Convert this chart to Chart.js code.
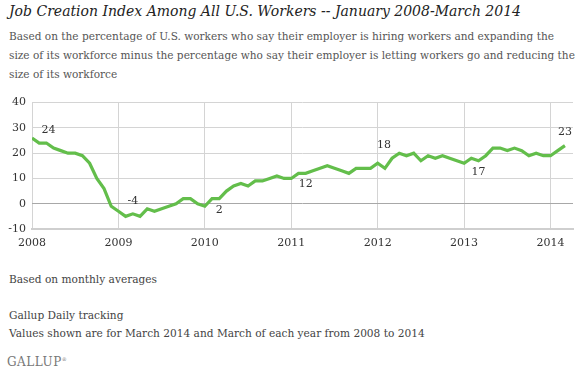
<!DOCTYPE html>
<html>
<head>
<meta charset="utf-8">
<script src="https://cdn.jsdelivr.net/npm/chart.js@4.4.1/dist/chart.umd.min.js"></script>
<style>
  body { margin: 0; width: 580px; height: 374px; background: #fff; position: relative; overflow: hidden; font-family: "DejaVu Serif", Georgia, serif; }
  .txt { position: absolute; left: 9px; white-space: nowrap; }
  #title { top: 3px; font-size: 14px; font-style: italic; color: #222; }
  #subtitle { top: 27px; font-size: 10.55px; line-height: 19px; color: #555; }
  #chartBox { position: absolute; left: 0; top: 90px; width: 580px; height: 170px; }
  .foot { font-size: 10.6px; color: #444; }
  #logo { font-size: 12px; color: #777; letter-spacing: 0.5px; }
</style>
</head>
<body>
<div id="title" class="txt">Job Creation Index Among All U.S. Workers -- January 2008-March 2014</div>
<div id="subtitle" class="txt">Based on the percentage of U.S. workers who say their employer is hiring workers and expanding the<br>size of its workforce minus the percentage who say their employer is letting workers go and reducing the<br>size of its workforce</div>
<div id="chartBox"><canvas id="myChart"></canvas></div>
<div class="txt foot" style="top:273px">Based on monthly averages</div>
<div class="txt foot" style="top:309px">Gallup Daily tracking</div>
<div class="txt foot" style="top:327px">Values shown are for March 2014 and March of each year from 2008 to 2014</div>
<div id="logo" class="txt" style="top:355px;left:7px">GALLUP<sup style="font-size:5px">&reg;</sup></div>

<script>
// monthly job creation index, Jan 2008 - Mar 2014
const startYear = 2008;
const jobIndex = [
  26, 24, 24, 22, 21, 20, 20, 19, 16, 10, 6, -1,   // 2008
  -3, -5, -4, -5, -2, -3, -2, -1, 0, 2, 2, 0,      // 2009
  -1, 2, 2, 5, 7, 8, 7, 9, 9, 10, 11, 10,          // 2010
  10, 12, 12, 13, 14, 15, 14, 13, 12, 14, 14, 14,  // 2011
  16, 14, 18, 20, 19, 20, 17, 19, 18, 19, 18, 17,  // 2012
  16, 18, 17, 19, 22, 22, 21, 22, 21, 19, 20, 19,  // 2013
  19, 21, 23                                       // 2014
];
const yearTicks = [2008, 2009, 2010, 2011, 2012, 2013, 2014];
const yTicks = [-10, 0, 10, 20, 30, 40];
// March of each year gets a value label
const calloutIdx = [2, 14, 26, 38, 50, 62, 74];
const calloutPos = ["above", "above", "below", "below", "above", "below", "above"];

const points = jobIndex.map((v, i) => ({ x: startYear + i / 12, y: v }));

const calloutPlugin = {
  id: "callouts",
  afterDatasetsDraw(chart) {
    const { ctx, scales } = chart;
    ctx.save();
    ctx.font = "11px 'DejaVu Serif'";
    ctx.fillStyle = "#333";
    ctx.textAlign = "center";
    ctx.textBaseline = "middle";
    calloutIdx.forEach((idx, k) => {
      const p = points[idx];
      let x = scales.x.getPixelForValue(p.x);
      let y = scales.y.getPixelForValue(p.y);
      if (calloutPos[k] === "above") y -= 13; else y += 11;
      if (idx === 2) x += 2;
      if (idx === 50) x -= 8;
      ctx.fillText(String(p.y), x, y);
    });
    ctx.restore();
  }
};

let ctx = document.getElementById("myChart").getContext("2d");
let myChart = new Chart(ctx, {
  type: "line",
  data: {
    datasets: [
      {
        label: "Job Creation Index",
        data: points,
        borderColor: "rgb(99, 190, 75)",
        borderWidth: 3.2,
        pointRadius: 0,
        tension: 0,
        fill: false,
      },
    ],
  },
  options: {
    responsive: true,
    maintainAspectRatio: false,
    animation: false,
    layout: { padding: { top: 12, right: 7, left: 0, bottom: 0 } },
    plugins: { legend: { display: false }, tooltip: { enabled: false } },
    scales: {
      x: {
        type: "linear",
        min: 2008,
        max: 2014.26,
        afterBuildTicks: (scale) => { scale.ticks = yearTicks.map((v) => ({ value: v })); },
        afterFit: (scale) => { scale.height = 31; },
        ticks: {
          padding: 8,
          color: "#333",
          font: { family: "DejaVu Serif", size: 11 },
          callback: (v) => String(v),
          maxRotation: 0,
        },
        grid: { color: "#d4d4d4", lineWidth: 1, drawTicks: false },
        border: { color: "#cfcfcf", width: 2 },
      },
      y: {
        min: -10,
        max: 40,
        afterBuildTicks: (scale) => { scale.ticks = yTicks.map((v) => ({ value: v })); },
        afterFit: (scale) => { scale.width = 32; },
        ticks: {
          padding: 6,
          color: "#333",
          font: { family: "DejaVu Serif", size: 11 },
        },
        grid: {
          color: (c) => (c.tick && c.tick.value === 0 ? "#a8a8a8" : "#d4d4d4"),
          lineWidth: 1,
          drawTicks: false,
        },
        border: { display: false },
      },
    },
  },
  plugins: [calloutPlugin],
});
</script>
</body>
</html>
